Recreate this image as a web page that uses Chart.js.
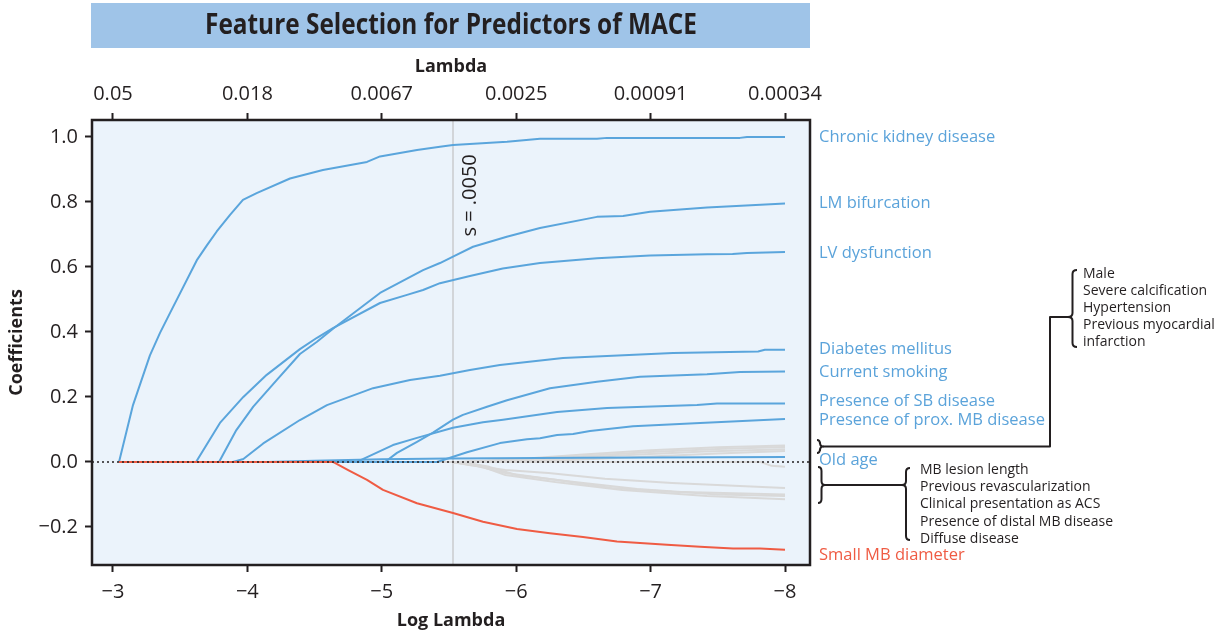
<!DOCTYPE html>
<html>
<head>
<meta charset="utf-8">
<script src="https://cdn.jsdelivr.net/npm/chart.js@4.4.1/dist/chart.umd.min.js"></script>
<style>
  html, body { margin: 0; padding: 0; background: #fff; }
  #wrap { width: 1225px; height: 632px; }
</style>
</head>
<body>
<div id="wrap"><canvas id="chart" width="1225" height="632"></canvas></div>
<script>
// ── Data ───────────────────────────────────────────────────────────────────
const logLambdaTicks   = [-3, -4, -5, -6, -7, -8];
const lambdaTickLabels = ['0.05', '0.018', '0.0067', '0.0025', '0.00091', '0.00034'];
const coefTicks        = [-0.2, 0, 0.2, 0.4, 0.6, 0.8, 1.0];
const selectedLogLambda = -5.53;
const selectedLabel     = 's = .0050';

// [log lambda, coefficient]
const chronicKidney = [[-3.045,0],[-3.149,0.175],[-3.275,0.328],[-3.35,0.397],[-3.424,0.458],
  [-3.623,0.62],[-3.70,0.667],[-3.772,0.709],[-3.871,0.76],[-3.967,0.806],[-4.069,0.827],[-4.317,0.872],
  [-4.562,0.898],[-4.89,0.923],[-4.987,0.94],[-5.262,0.96],[-5.433,0.97],[-5.53,0.975],[-5.932,0.985],
  [-6.177,0.994],[-6.601,0.994],[-6.676,0.997],[-7.665,0.997],[-7.717,1.0],[-8.0,1.0]];
const lmBifurcation = [[-3.045,0],[-3.789,0],[-3.918,0.098],[-4.044,0.17],[-4.218,0.252],[-4.391,0.332],
  [-4.518,0.37],[-4.637,0.41],[-4.987,0.52],[-5.307,0.59],[-5.433,0.612],[-5.53,0.632],[-5.679,0.662],
  [-5.93,0.693],[-6.177,0.72],[-6.601,0.754],[-6.795,0.757],[-6.996,0.77],[-7.42,0.783],[-8.0,0.795]];
const lvDysfunction = [[-3.045,0],[-3.618,0],[-3.796,0.12],[-3.97,0.2],[-4.144,0.268],[-4.391,0.347],
  [-4.518,0.382],[-4.637,0.412],[-4.987,0.489],[-5.188,0.514],[-5.307,0.529],[-5.433,0.55],[-5.656,0.572],
  [-5.90,0.595],[-6.177,0.612],[-6.601,0.627],[-6.996,0.635],[-7.42,0.639],[-7.61,0.64],[-7.717,0.643],[-8.0,0.646]];
const diabetes = [[-3.045,0],[-3.893,0],[-3.97,0.009],[-4.118,0.057],[-4.391,0.129],[-4.592,0.175],
  [-4.935,0.227],[-5.21,0.252],[-5.433,0.265],[-5.656,0.283],[-5.879,0.298],[-6.348,0.32],[-7.167,0.335],
  [-7.80,0.34],[-7.85,0.345],[-8.0,0.345]];
const smoking = [[-3.045,0],[-5.024,0],[-5.113,0.028],[-5.262,0.062],[-5.381,0.09],[-5.53,0.13],
  [-5.604,0.145],[-5.783,0.17],[-5.932,0.19],[-6.251,0.227],[-6.601,0.247],[-6.921,0.262],[-7.42,0.27],
  [-7.665,0.277],[-8.0,0.278]];
const sbDisease = [[-3.045,0],[-4.815,0],[-5.083,0.052],[-5.262,0.074],[-5.53,0.105],[-5.753,0.122],
  [-5.902,0.13],[-6.304,0.154],[-6.676,0.166],[-7.345,0.175],[-7.494,0.18],[-8.0,0.18]];
const proxMb = [[-3.045,0],[-5.411,0],[-5.634,0.03],[-5.879,0.058],[-6.08,0.07],[-6.177,0.073],
  [-6.304,0.083],[-6.423,0.086],[-6.549,0.095],[-6.869,0.11],[-7.368,0.12],[-8.0,0.132]];
const oldAge = [[-3.045,0],[-4.15,0],[-4.5,0.004],[-5.0,0.008],[-5.5,0.011],[-6.5,0.013],[-8.0,0.015]];
const smallMbDiameter = [[-3.045,0],[-4.637,0],[-4.75,-0.025],[-4.89,-0.055],[-5.009,-0.086],[-5.262,-0.127],
  [-5.53,-0.157],[-5.753,-0.184],[-6.006,-0.206],[-6.251,-0.219],[-6.497,-0.231],[-6.75,-0.245],
  [-7.122,-0.255],[-7.368,-0.261],[-7.613,-0.266],[-7.814,-0.266],[-8.0,-0.27]];

// unlabeled (grey) coefficients
const male          = [[-3.045,0],[-5.55,0],[-6.0,0.008],[-6.5,0.023],[-7.0,0.036],[-7.5,0.045],[-8.0,0.051]];
const calcification = [[-3.045,0],[-5.6,0],[-6.1,0.008],[-6.6,0.021],[-7.0,0.031],[-7.5,0.04],[-8.0,0.046]];
const hypertension  = [[-3.045,0],[-5.7,0],[-6.2,0.007],[-6.8,0.021],[-7.4,0.032],[-8.0,0.039]];
const previousMi    = [[-3.045,0],[-5.9,0],[-6.4,0.006],[-7.0,0.017],[-7.5,0.026],[-8.0,0.034]];
const lesionLength  = [[-3.045,0],[-5.52,0],[-5.66,-0.01],[-5.92,-0.025],[-6.24,-0.034],[-6.66,-0.052],[-7.16,-0.065],[-8.0,-0.08]];
const revasc        = [[-3.045,0],[-5.52,0],[-5.7,-0.012],[-5.92,-0.034],[-6.29,-0.055],[-6.71,-0.08],[-7.16,-0.092],[-8.0,-0.10]];
const acs           = [[-3.045,0],[-5.55,0],[-5.75,-0.015],[-5.92,-0.04],[-6.29,-0.062],[-6.79,-0.086],[-7.42,-0.105],[-8.0,-0.115]];
const distalMb      = [[-3.045,0],[-5.6,0],[-5.8,-0.015],[-6.0,-0.04],[-6.4,-0.06],[-6.9,-0.083],[-7.5,-0.1],[-8.0,-0.105]];
const diffuse       = [[-3.045,0],[-7.82,0],[-7.9,-0.012],[-8.0,-0.015]];

const labeledSeries = [chronicKidney, lmBifurcation, lvDysfunction, diabetes, smoking, sbDisease, proxMb, oldAge];
const labeledNames  = ['Chronic kidney disease', 'LM bifurcation', 'LV dysfunction', 'Diabetes mellitus',
  'Current smoking', 'Presence of SB disease', 'Presence of prox. MB disease', 'Old age'];
const labelAt       = [1.0, 0.797, 0.643, 0.348, 0.277, 0.188, 0.129, 0.006];
const negativeName  = 'Small MB diameter';
const negativeLabelAt = -0.286;
const greySeries    = [male, calcification, hypertension, previousMi, lesionLength, revasc, acs, distalMb, diffuse];
const upperGroup    = ['Male', 'Severe calcification', 'Hypertension', 'Previous myocardial', 'infarction'];
const lowerGroup    = ['MB lesion length', 'Previous revascularization', 'Clinical presentation as ACS',
  'Presence of distal MB disease', 'Diffuse disease'];

// ── Style ──────────────────────────────────────────────────────────────────
const X_MIN = -8.186, X_MAX = -2.844;
const Y_MIN = -0.317, Y_MAX = 1.052;
const INK = '#231f20', BLUE = '#5aa5dc', LABEL_BLUE = '#5ba3da', RED = '#ef5b43', GREY = '#d9d9d9';
const zeroLine = [[X_MAX, 0], [X_MIN, 0]];

Chart.defaults.font.family = '"Open Sans", sans-serif';
Chart.defaults.color = INK;

const datasets = [
  { data: zeroLine, borderColor: INK, borderWidth: 1.6, borderDash: [2, 3] },
  { data: smallMbDiameter, borderColor: RED }
];
labeledSeries.forEach(d => datasets.push({ data: d, borderColor: BLUE }));
greySeries.forEach(d => datasets.push({ data: d, borderColor: GREY }));

function brace(ctx, xTip, xArm, y0, y1, yTip) {
  const xs = (xTip + xArm) / 2, r = 4;
  ctx.beginPath();
  ctx.moveTo(xArm, y0);
  ctx.quadraticCurveTo(xs, y0, xs, y0 + r);
  ctx.lineTo(xs, yTip - r);
  ctx.quadraticCurveTo(xs, yTip, xTip, yTip);
  ctx.quadraticCurveTo(xs, yTip, xs, yTip + r);
  ctx.lineTo(xs, y1 - r);
  ctx.quadraticCurveTo(xs, y1, xArm, y1);
  ctx.stroke();
}

const decor = {
  id: 'decor',
  beforeDraw(chart) {
    const { ctx, chartArea: a } = chart;
    ctx.save();
    ctx.fillStyle = '#ffffff';
    ctx.fillRect(0, 0, chart.width, chart.height);
    ctx.fillStyle = '#9fc4e8';
    ctx.fillRect(91, 3, 719, 45);
    // condensed bold title: squeeze Open Sans Bold to the reference width
    const title = 'Feature Selection for Predictors of MACE';
    ctx.font = 'bold 28px "Open Sans"';
    const sx = 492 / ctx.measureText(title).width;
    ctx.translate(451, 26);
    ctx.scale(sx, 1);
    ctx.fillStyle = INK;
    ctx.textAlign = 'center';
    ctx.textBaseline = 'middle';
    ctx.fillText(title, 0, 0);
    ctx.setTransform(1, 0, 0, 1, 0, 0);
    ctx.fillStyle = '#ebf3fb';
    ctx.fillRect(a.left, a.top, a.right - a.left, a.bottom - a.top);
    ctx.restore();
  },
  beforeDatasetsDraw(chart) {
    const { ctx, chartArea: a, scales } = chart;
    const x = scales.x.getPixelForValue(selectedLogLambda);
    ctx.save();
    ctx.strokeStyle = '#d2d5d9';
    ctx.lineWidth = 2;
    ctx.beginPath();
    ctx.moveTo(x, a.top);
    ctx.lineTo(x, a.bottom);
    ctx.stroke();
    ctx.translate(x + 17, scales.y.getPixelForValue(0.82));
    ctx.rotate(-Math.PI / 2);
    ctx.fillStyle = INK;
    ctx.font = '20px "Open Sans"';
    ctx.textAlign = 'center';
    ctx.textBaseline = 'middle';
    ctx.fillText(selectedLabel, 0, 0);
    ctx.restore();
  },
  afterDraw(chart) {
    const { ctx, chartArea: a, scales } = chart;
    ctx.save();
    ctx.strokeStyle = INK;
    ctx.lineWidth = 2.5;
    ctx.strokeRect(a.left, a.top, a.right - a.left, a.bottom - a.top);

    const lx = a.right + 9;
    ctx.font = '16.5px "Open Sans"';
    ctx.textAlign = 'left';
    ctx.textBaseline = 'middle';
    ctx.fillStyle = LABEL_BLUE;
    labeledNames.forEach((n, i) => ctx.fillText(n, lx, scales.y.getPixelForValue(labelAt[i])));
    ctx.fillStyle = RED;
    ctx.fillText(negativeName, lx, scales.y.getPixelForValue(negativeLabelAt));

    // brackets for the grey coefficients
    ctx.strokeStyle = INK;
    ctx.lineWidth = 2;
    ctx.lineJoin = 'round';
    brace(ctx, 823, 817, 440, 453, 446.5);
    ctx.beginPath();
    ctx.moveTo(823, 446.5); ctx.lineTo(1050, 446.5); ctx.lineTo(1050, 317); ctx.lineTo(1068, 317);
    ctx.stroke();
    brace(ctx, 1068, 1077, 270, 347, 317);
    brace(ctx, 825, 818, 467, 503, 485);
    ctx.beginPath();
    ctx.moveTo(825, 485); ctx.lineTo(902, 485);
    ctx.stroke();
    brace(ctx, 902, 910, 468, 540, 485);

    ctx.fillStyle = INK;
    ctx.font = '14px "Open Sans"';
    upperGroup.forEach((t, i) => ctx.fillText(t, 1083, 274 + i * 17));
    lowerGroup.forEach((t, i) => ctx.fillText(t, 920, 470 + i * 17.2));
    ctx.restore();
  }
};

const signed = s => s.replace('-', '\u2212');

new Chart(document.getElementById('chart'), {
  type: 'line',
  data: { datasets },
  options: {
    responsive: false,
    animation: false,
    devicePixelRatio: 1,
    layout: { padding: { top: 52, right: 415, left: 0, bottom: 0 } },
    elements: {
      point: { radius: 0 },
      line: { borderWidth: 2, tension: 0, fill: false, borderJoinStyle: 'round' }
    },
    plugins: { legend: { display: false }, tooltip: { enabled: false } },
    scales: {
      x: {
        type: 'linear', position: 'bottom', reverse: true, min: X_MIN, max: X_MAX,
        afterBuildTicks: s => { s.ticks = logLambdaTicks.map(v => ({ value: v })); },
        afterFit: s => { s.height = 67; },
        ticks: { padding: 8, color: INK, font: { size: 20 }, maxRotation: 0, autoSkip: false,
                 callback: v => signed(String(v)) },
        grid: { drawOnChartArea: false, tickLength: 7, tickColor: INK, tickWidth: 2 },
        border: { display: false },
        title: { display: true, text: 'Log Lambda', color: INK, font: { size: 18, weight: 'bold' }, padding: { top: 1, bottom: 0 } }
      },
      x2: {
        type: 'linear', axis: 'x', position: 'top', reverse: true, min: X_MIN, max: X_MAX,
        afterBuildTicks: s => { s.ticks = logLambdaTicks.map(v => ({ value: v })); },
        afterFit: s => { s.height = 68; },
        ticks: { padding: 7, color: INK, font: { size: 20 }, maxRotation: 0, autoSkip: false,
                 callback: v => lambdaTickLabels[logLambdaTicks.indexOf(v)] },
        grid: { drawOnChartArea: false, tickLength: 7, tickColor: INK, tickWidth: 2 },
        border: { display: false },
        title: { display: true, text: 'Lambda', color: INK, font: { size: 18, weight: 'bold' }, padding: { top: 4, bottom: 0 } }
      },
      y: {
        type: 'linear', position: 'left', min: Y_MIN, max: Y_MAX,
        afterBuildTicks: s => { s.ticks = coefTicks.map(v => ({ value: v })); },
        afterFit: s => { s.width = 92; },
        ticks: { padding: 7, color: INK, font: { size: 20 }, autoSkip: false,
                 callback: v => signed(v.toFixed(1)) },
        grid: { drawOnChartArea: false, tickLength: 7, tickColor: INK, tickWidth: 2 },
        border: { display: false },
        title: { display: true, text: 'Coefficients', color: INK, font: { size: 18, weight: 'bold' }, padding: { top: 6, bottom: 0 } }
      }
    }
  },
  plugins: [decor]
});
</script>
</body>
</html>
